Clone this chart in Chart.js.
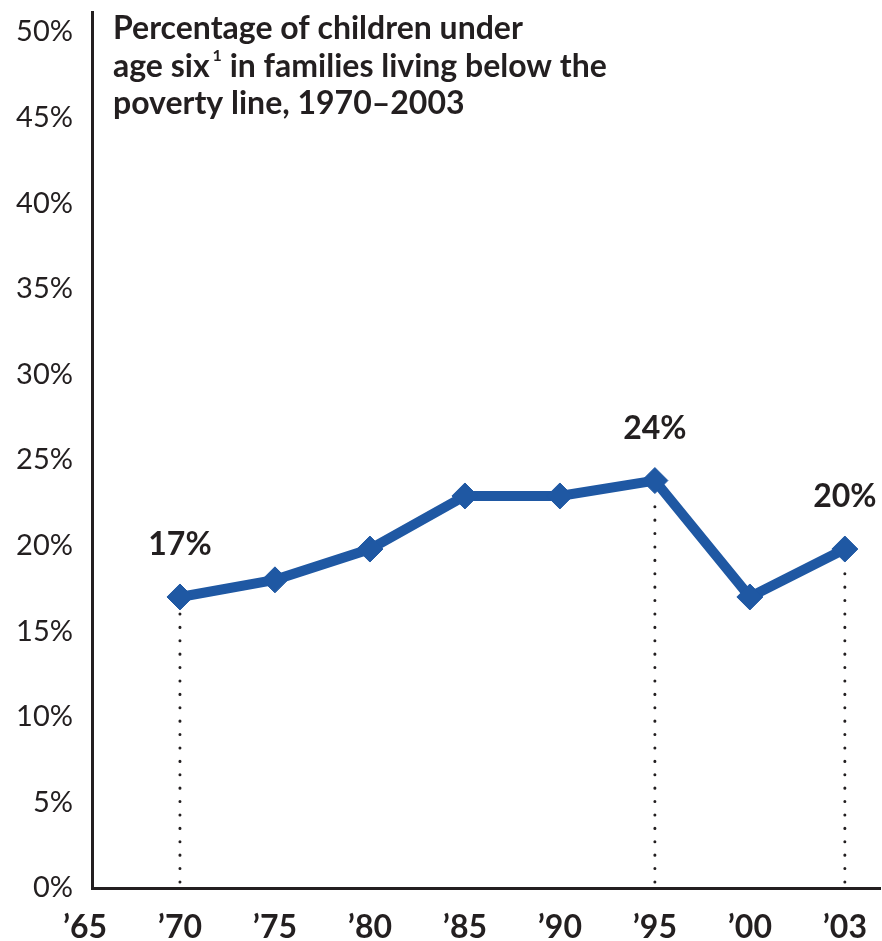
<!DOCTYPE html>
<html lang="en">
<head>
<meta charset="UTF-8" />
<title>Children under six in poverty</title>
<script src="https://cdn.jsdelivr.net/npm/chart.js@4.4.1/dist/chart.umd.min.js"></script>
<style>
  html, body { margin: 0; padding: 0; background: #fff; }
  .wrap { width: 882px; height: 941px; position: relative; }
</style>
</head>
<body>
<div class="wrap"><canvas id="povertyChart"></canvas></div>
<script>
// axis tick labels (x) and years that carry data
const tickLabels = ["’65", "’70", "’75", "’80", "’85", "’90", "’95", "’00", "’03"];
const years = ["’70", "’75", "’80", "’85", "’90", "’95", "’00", "’03"];
const percentBelowPoverty = [17.0, 18.0, 19.8, 22.9, 22.9, 23.8, 17.0, 19.8];
// labelled points
const calloutYears = ["’70", "’95", "’03"];
const calloutText = ["17%", "24%", "20%"];
const yTicks = [0, 5, 10, 15, 20, 25, 30, 35, 40, 45, 50];
const titleLines = ["Percentage of children under", "age six", "1", " in families living below the", "poverty line, 1970–2003"];

const INK = "#231f20";
const BLUE = "#1f58a3";
const FONT = "Lato, 'Open Sans', sans-serif";

const points = years.map((y, i) => ({x: tickLabels.indexOf(y), y: percentBelowPoverty[i]}));

const dropLines = {
  id: "dropLines",
  beforeDatasetsDraw(chart) {
    const {ctx, chartArea} = chart;
    const meta = chart.getDatasetMeta(0);
    ctx.save();
    ctx.strokeStyle = INK;
    ctx.lineWidth = 3;
    ctx.lineCap = "round";
    ctx.setLineDash([0.1, 13.3]);
    calloutYears.forEach((y) => {
      const p = meta.data[years.indexOf(y)];
      ctx.beginPath();
      ctx.moveTo(p.x, chartArea.bottom - 6);
      ctx.lineTo(p.x, p.y + 14);
      ctx.stroke();
    });
    ctx.restore();
  },
  afterDatasetsDraw(chart) {
    const {ctx} = chart;
    const meta = chart.getDatasetMeta(0);
    ctx.save();
    ctx.fillStyle = INK;
    ctx.font = "bold 32px " + FONT;
    ctx.textAlign = "center";
    ctx.textBaseline = "middle";
    calloutYears.forEach((y, i) => {
      const p = meta.data[years.indexOf(y)];
      ctx.fillText(calloutText[i], p.x, p.y - 52);
    });
    ctx.restore();
  }
};

const chartTitle = {
  id: "chartTitle",
  afterDraw(chart) {
    const {ctx, chartArea} = chart;
    const x = chartArea.left + 21;
    ctx.save();
    ctx.fillStyle = INK;
    ctx.textBaseline = "alphabetic";
    ctx.font = "bold 32px " + FONT;
    ctx.fillText(titleLines[0], x, 39);
    ctx.fillText(titleLines[1], x, 77);
    let w = ctx.measureText(titleLines[1]).width;
    ctx.font = "bold 16px " + FONT;
    ctx.fillText(titleLines[2], x + w + 3, 61);
    w += ctx.measureText(titleLines[2]).width + 3;
    ctx.font = "bold 32px " + FONT;
    ctx.fillText(titleLines[3], x + w, 77);
    ctx.fillText(titleLines[4], x, 114);
    ctx.restore();
  }
};

new Chart(document.getElementById("povertyChart"), {
  type: "line",
  data: {
    datasets: [{
      data: points,
      borderColor: BLUE,
      borderWidth: 10,
      backgroundColor: BLUE,
      pointStyle: "rectRot",
      pointRadius: 13,
      pointBorderWidth: 1,
      pointBorderColor: BLUE,
      pointBackgroundColor: BLUE,
      tension: 0
    }]
  },
  options: {
    responsive: true,
    maintainAspectRatio: false,
    animation: false,
    layout: {autoPadding: false, padding: {top: 12, right: 2, left: 0, bottom: 0}},
    plugins: {legend: {display: false}, tooltip: {enabled: false}},
    scales: {
      x: {
        type: "linear",
        min: 0.074,
        max: 8.37,
        afterBuildTicks: (s) => { s.ticks = tickLabels.map((_, i) => ({value: i})); },
        afterFit: (s) => { s.height = 53; s.paddingLeft = 0; s.paddingRight = 0; },
        grid: {display: false, drawTicks: false},
        border: {display: true, color: INK, width: 3},
        ticks: {
          autoSkip: false,
          maxRotation: 0,
          padding: 20,
          color: INK,
          font: {family: FONT, size: 32, weight: "bold"},
          callback: (v) => tickLabels[v]
        }
      },
      y: {
        min: 0,
        max: 51.17,
        afterBuildTicks: (s) => { s.ticks = yTicks.map((v) => ({value: v})); },
        afterFit: (s) => { s.width = 92; s.paddingTop = 0; s.paddingBottom = 0; },
        grid: {display: false, drawTicks: false},
        border: {display: true, color: INK, width: 3},
        ticks: {
          padding: 19,
          color: INK,
          font: {family: FONT, size: 29},
          callback: (v) => v + "%"
        }
      }
    }
  },
  plugins: [dropLines, chartTitle]
});
</script>
</body>
</html>
